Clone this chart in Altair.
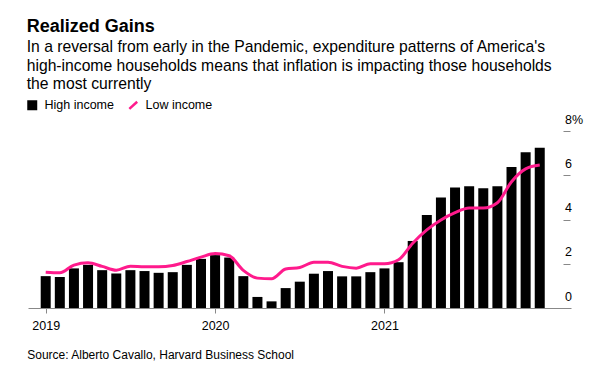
import altair as alt
import pandas as pd

years = ["2019", "2020", "2021"]
months = [f"{y}-{m:02d}" for y in years for m in range(1, 13)]

high_income = [1.44, 1.40, 1.79, 1.95, 1.71, 1.56, 1.71, 1.67, 1.59, 1.62, 1.95, 2.22,
               2.39, 2.28, 1.44, 0.50, 0.30, 0.90, 1.19, 1.55, 1.67, 1.43, 1.43, 1.62,
               1.79, 2.07, 3.03, 4.20, 5.00, 5.45, 5.50, 5.41, 5.50, 6.37, 7.04, 7.24]
low_income = [1.62, 1.59, 1.94, 2.04, 1.88, 1.71, 1.89, 1.86, 1.86, 1.92, 2.10, 2.30,
              2.46, 2.36, 1.70, 1.35, 1.32, 1.76, 1.83, 2.07, 2.07, 1.88, 1.80, 2.00,
              2.00, 2.18, 2.93, 3.53, 3.98, 4.31, 4.52, 4.52, 4.76, 5.71, 6.29, 6.46]
y_ticks = [0, 2, 4, 6, 8]
series_names = ["High income", "Low income"]
colors = ["#000000", "#ff1a8c"]

df_high = pd.DataFrame({"month": months, "idx": list(range(len(months))),
                        "value": high_income, "series": series_names[0]})
df_low = pd.DataFrame({"month": months, "idx": list(range(len(months))),
                       "value": low_income, "series": series_names[1]})

FONT = "Liberation Sans"
year_expr = " : ".join(
    [f"datum.value == {i*12} ? '{y}'" for i, y in enumerate(years)]) + " : ''"

color_scale = alt.Scale(domain=series_names, range=colors)

x_enc = alt.X("idx:Q",
              scale=alt.Scale(domain=[-0.9, 36.86], nice=False, zero=False),
              axis=alt.Axis(values=[0, 12, 24], labelExpr=year_expr, grid=False,
                            tickSize=5, tickColor="#888", domainColor="#888",
                            labelFontSize=12.5, labelColor="#000", labelFont=FONT,
                            labelPadding=6,
                            title="Source: Alberto Cavallo, Harvard Business School",
                            titleFont=FONT, titleFontSize=12, titleFontWeight="normal",
                            titleColor="#000", titleAlign="left", titleBaseline="alphabetic",
                            titleX=-1.3, titleY=50))
y_enc = alt.Y("value:Q",
              scale=alt.Scale(domain=[0, 8], nice=False),
              axis=alt.Axis(orient="right", offset=-8, values=y_ticks, domain=False,
                            grid=False, tickSize=7, tickColor="#888",
                            labelExpr="datum.value == 8 ? '8%' : datum.label",
                            labelAlign="left", labelBaseline="alphabetic",
                            labelPadding=-5.5, labelOffset=-8, labelFontSize=12.5,
                            labelColor="#000", labelFont=FONT, title=None))

legend = alt.Legend(
    title=None, orient="none", direction="horizontal", legendX=-2, legendY=-32,
    labelFont=FONT, labelFontSize=12.5, labelColor="#000", labelOffset=6,
    columnPadding=10, symbolSize=56, padding=0, symbolStrokeWidth=2.5, symbolOpacity=1,
    symbolType={"expr": "datum.label === 'High income' ? 'square' : 'M-1.05,0.95L1.05,-0.95'"},
    symbolFillColor={"expr": "datum.label === 'High income' ? '#000000' : 'transparent'"},
    symbolStrokeColor={"expr": "datum.label === 'High income' ? 'transparent' : '#ff1a8c'"})

bars = alt.Chart(df_high).mark_bar(width=10).encode(
    x=x_enc, y=y_enc,
    color=alt.Color("series:N", scale=color_scale, legend=legend))

line = alt.Chart(df_low).mark_line(strokeWidth=3, interpolate="monotone").encode(
    x="idx:Q", y="value:Q",
    color=alt.Color("series:N", scale=color_scale, legend=legend))

chart = alt.layer(bars, line).properties(
    width=543, height=177,
    title=alt.TitleParams(
        text="Realized Gains",
        subtitle=["In a reversal from early in the Pandemic, expenditure patterns of America's",
                  "high-income households means that inflation is impacting those households",
                  "the most currently"],
        anchor="start", frame="group", dx=-1.3, offset=7,
        font=FONT, fontSize=18, fontWeight="bold", color="#000",
        subtitleFont=FONT, subtitleFontSize=15.7, subtitleColor="#000",
        subtitleLineHeight=18.5, subtitlePadding=4),
    autosize=alt.AutoSizeParams(type="none"),
    padding={"left": 20, "top": 123, "right": 25, "bottom": 55},
).configure_view(stroke=None)

chart.save("out.html", embed_options={"renderer": "svg", "actions": False})
